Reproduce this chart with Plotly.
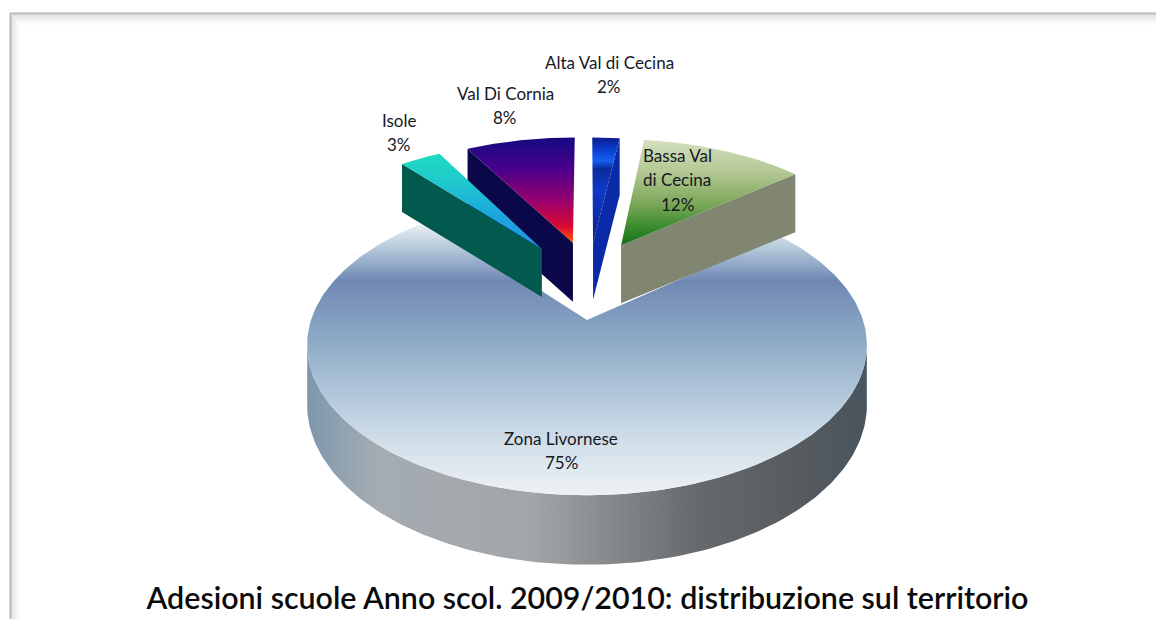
import numpy as np
import plotly.graph_objects as go

# ---- data ----
CATEGORIES = ["Alta Val di Cecina", "Bassa Val di Cecina", "Zona Livornese", "Isole", "Val Di Cornia"]
LABEL_LINES = [["Alta Val di Cecina"], ["Bassa Val", "di Cecina"], ["Zona Livornese"], ["Isole"], ["Val Di Cornia"]]
VALUES = [2, 12, 75, 3, 8]
TITLE = "Adesioni scuole Anno scol. 2009/2010: distribuzione sul territorio"

# ---- drawing parameters (perspective camera & explosion) ----
W, H = 1156, 619
CX, CY, A, B, F = 587, 320, 276, 146, 6.0
LINE_STEP = 24.5
EXPLODE = {"Alta Val di Cecina": (0.024, 0.58), "Bassa Val di Cecina": (0.135, 0.56),
           "Zona Livornese": (0, 0), "Isole": (-0.178, 0.53), "Val Di Cornia": (-0.056, 0.58)}
DEPTH = {"Alta Val di Cecina": 57, "Bassa Val di Cecina": 58, "Isole": 48, "Val Di Cornia": 59}
TOP_GRAD = {
    "Alta Val di Cecina": [[0, "#0a1c90"], [0.12, "#0c3fd0"], [0.22, "#1560f0"], [0.3, "#0a2a9c"], [0.5, "#0c3ac8"], [1, "#0a1f90"]],
    "Bassa Val di Cecina": [[0, "#d4dfc0"], [0.3, "#b4c894"], [0.6, "#7da85a"], [0.85, "#35882a"], [1, "#0f7014"]],
    "Isole": [[0, "#1fdcc0"], [0.3, "#1fc8cc"], [0.65, "#1ea6e0"], [1, "#1e90e6"]],
    "Val Di Cornia": [[0, "#140a80"], [0.3, "#4a008c"], [0.6, "#98006f"], [0.85, "#dc0a30"], [1, "#ff5a00"]],
}
SIDE_COL = {"Alta Val di Cecina": "#0b2aa8", "Bassa Val di Cecina": "#80866f",
            "Isole": "#02594e", "Val Di Cornia": "#0a0848"}
LABEL_TOP = {"Alta Val di Cecina": (609, 62), "Bassa Val di Cecina": (677, 155),
             "Zona Livornese": (561, 438), "Isole": (399, 120), "Val Di Cornia": (505, 93)}
ZONA_TOP = [[0, "#f2f6f9"], [0.1, "#b6cadb"], [0.22, "#7088b4"], [0.42, "#8aa8c4"], [0.62, "#afc5d9"], [0.82, "#d3e0ea"], [1, "#eef1f5"]]
ZONA_RIM = [[0, "#7d97ad"], [0.12, "#a4acb2"], [0.4, "#a3a6a8"], [0.7, "#66696b"], [0.9, "#545a5e"], [1, "#49545e"]]


def flip(stops):
    # plotly's vertical fill gradient runs bottom-to-top; stops above are top-to-bottom
    return [[1 - p, c] for p, c in reversed(stops)]


def project(X, Y):
    s = F / (F + np.asarray(Y, float))
    return CX + s * A * np.asarray(X, float), CY - s * B * np.asarray(Y, float), s


def arc(t0, t1, off, n=80):
    t = np.radians(np.linspace(t0, t1, n))
    return off[0] + np.sin(t), off[1] + np.cos(t)


def poly(fig, x, y, color=None, grad=None, gtype="vertical"):
    kw = dict(fillcolor=color) if color else dict(fillgradient=dict(type=gtype, colorscale=grad))
    fig.add_trace(go.Scatter(x=list(x), y=list(y), mode="lines", fill="toself",
                             line=dict(width=0), hoverinfo="skip", showlegend=False, **kw))


angles = np.cumsum([0] + VALUES) * 3.6
span = {c: (angles[i], angles[i + 1]) for i, c in enumerate(CATEGORIES)}

fig = go.Figure()

# main slice: rim then top
z0, z1 = span["Zona Livornese"]
ax, ay = arc(98, 262, (0, 0), 160)
px, py, ps = project(ax, ay)
poly(fig, np.r_[px, px[::-1]], np.r_[py, (py + 58 * ps)[::-1]], grad=ZONA_RIM, gtype="horizontal")
ax, ay = arc(z0, z1, EXPLODE["Zona Livornese"], 240)
px, py, _ = project(ax, ay)
ox, oy, _ = project([0], [0])
poly(fig, np.r_[ox, px], np.r_[oy, py], grad=flip(ZONA_TOP))

# exploded slices, back to front
for c in ["Bassa Val di Cecina", "Alta Val di Cecina", "Val Di Cornia", "Isole"]:
    off = EXPLODE[c]
    t0, t1 = span[c]
    ax, ay = arc(t0, t1, off)
    px, py, _ = project(ax, ay)
    ox, oy, _ = project([off[0]], [off[1]])
    d = DEPTH[c]
    # visible radial side face
    edge = (px[-1], py[-1]) if c in ("Bassa Val di Cecina", "Alta Val di Cecina") else (px[0], py[0])
    sx = [edge[0], ox[0], ox[0], edge[0]]
    sy = [edge[1], oy[0], oy[0] + d, edge[1] + d]
    poly(fig, sx, sy, color=SIDE_COL[c])
    poly(fig, np.r_[ox, px], np.r_[oy, py], grad=flip(TOP_GRAD[c]))

# labels (one annotation per line, for the reference's wider leading)
for c, lines, v in zip(CATEGORIES, LABEL_LINES, VALUES):
    x, y = LABEL_TOP[c]
    for i, t in enumerate(lines + [f"{v}%"]):
        fig.add_annotation(x=x, y=y + i * LINE_STEP, text=t, showarrow=False, xanchor="center", yanchor="middle",
                           font=dict(family="Lato", size=17, color="#16181f"))

# picture frame
shapes = []
for i, g in enumerate(["#b0b0b0", "#9c9c9c", "#d4d4d4"]):
    shapes.append(dict(type="line", x0=10 + i, x1=10 + i, y0=13, y1=H, line=dict(color=g, width=1)))
    shapes.append(dict(type="line", x0=10, x1=W, y0=13 + i, y1=13 + i, line=dict(color=g, width=1)))
for i, g in enumerate(["#e0e0e0", "#e4e4e4", "#e9e9e9", "#eeeeee", "#f3f3f3", "#f7f7f7", "#fbfbfb"]):
    shapes.append(dict(type="line", x0=13 + i, x1=13 + i, y0=16 + i, y1=H, line=dict(color=g, width=1)))
for i, g in enumerate(["#dedede", "#e2e2e2", "#e6e6e6", "#eaeaea", "#eeeeee", "#f2f2f2", "#f6f6f6", "#f9f9f9", "#fcfcfc"]):
    shapes.append(dict(type="line", x0=13 + i, x1=W, y0=16 + i, y1=16 + i, line=dict(color=g, width=1)))

fig.update_layout(
    width=W, height=H, margin=dict(l=0, r=0, t=0, b=0), autosize=False,
    paper_bgcolor="white", plot_bgcolor="white", showlegend=False, shapes=shapes,
    xaxis=dict(range=[0, W], visible=False, fixedrange=True),
    yaxis=dict(range=[H, 0], visible=False, fixedrange=True),
    title=dict(text=TITLE, x=587.5 / W, y=1 - 598 / H, xanchor="center", yanchor="middle",
               font=dict(family="Lato", size=30.4, color="#0a0a0a", weight=600)),
)
fig.write_html("out.html", config=dict(displayModeBar=False),
               post_script="document.body.style.margin='0';document.body.style.overflow='hidden';")
